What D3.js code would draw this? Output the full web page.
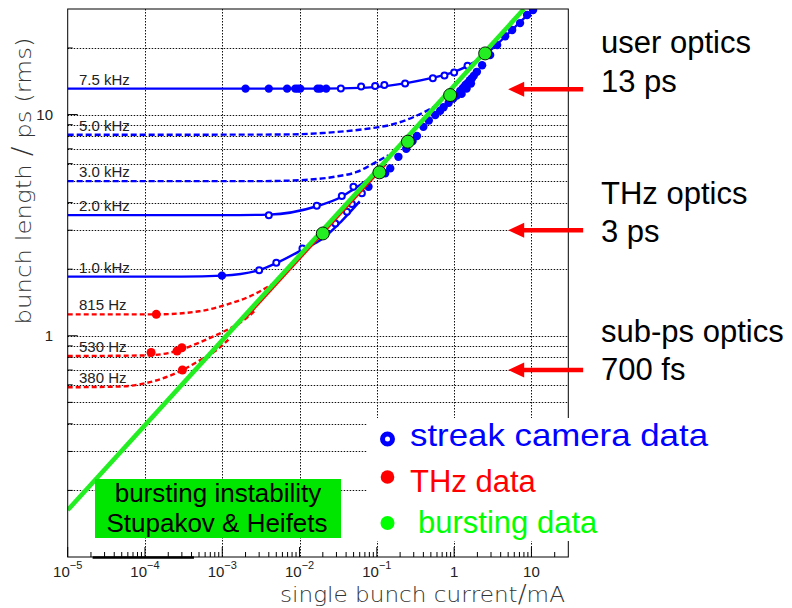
<!DOCTYPE html>
<html>
<head>
<meta charset="utf-8">
<script src="https://cdn.jsdelivr.net/npm/d3@7"></script>
<style>
  body { margin: 0; background: #fff; }
  svg { display: block; }
</style>
</head>
<body>
<svg id="chart" width="792" height="608"></svg>
<script>
// ---- axis ticks ----
const currentTicks = [1e-5, 1e-4, 1e-3, 1e-2, 1e-1, 1, 10];
const currentTickLabels = [["10", "−5"], ["10", "−4"], ["10", "−3"], ["10", "−2"], ["10", "−1"], ["1", ""], ["10", ""]];
const lengthTicks = [1, 10];
const lengthTickLabels = ["1", "10"];

// ---- fitted curves per synchrotron frequency: [current mA, bunch length ps] ----
const fit7500 = [[1e-5, 13.1], [0.02, 13.1], [0.06, 13.2], [0.13, 13.45], [0.25, 13.9], [0.5, 14.6], [1.0, 15.6], [1.5, 16.6], [2.2, 18.0], [3.2, 20.0], [5, 23.2], [8, 27.2], [11, 30]];
const fit5000 = [[1e-5, 8.1], [0.005, 8.12], [0.02, 8.25], [0.041, 8.42], [0.08, 8.65], [0.149, 8.97], [0.3, 9.75], [0.49, 10.6], [0.65, 11.2]];
const fit3000 = [[1e-5, 5.0], [0.003, 5.0], [0.01, 5.05], [0.03, 5.25], [0.055, 5.5], [0.09, 6.0], [0.14, 6.55]];
const fit2000 = [[1e-5, 3.51], [0.001, 3.51], [0.004, 3.53], [0.0167, 3.85], [0.035, 4.25], [0.05, 4.6], [0.078, 5.1], [0.1, 5.45]];
const fit1000 = [[1e-5, 1.85], [3e-4, 1.85], [1e-3, 1.87], [3e-3, 1.98], [5e-3, 2.13], [0.0109, 2.45], [0.02, 2.75], [0.035, 3.3], [0.06, 4.05]];
const fit815 = [[1e-5, 1.25], [1.4e-4, 1.25], [5e-4, 1.29], [1.27e-3, 1.40], [2.2e-3, 1.5], [3.2e-3, 1.6], [4.3e-3, 1.7], [5.8e-3, 1.82]];
const fit530 = [[1e-5, 0.81], [1e-4, 0.815], [2e-4, 0.835], [3e-4, 0.87], [5e-4, 0.93], [8e-4, 1.0], [1.2e-3, 1.07], [1.8e-3, 1.16], [2.6e-3, 1.29]];
const fit380 = [[1e-5, 0.585], [5e-5, 0.59], [1e-4, 0.61], [2e-4, 0.655], [3.05e-4, 0.70], [5e-4, 0.77], [8e-4, 0.85], [1.2e-3, 0.96]];

// ---- threshold lines ----
const burstingLine = [[1e-5, 0.163], [8.0, 30]];
const thzThresholdLine = [[2e-3, 1.2], [0.13, 5.95]];

// ---- measurements ----
const streakFilled = [
  [0.002, 13.1], [0.004, 13.1], [0.0069, 13.1], [0.0088, 13.1], [0.0095, 13.1], [0.0102, 13.1], [0.0171, 13.1], [0.0185, 13.1], [0.0221, 13.1],
  [0.00099, 1.87],
  [0.078, 4.72], [0.128, 5.42], [0.149, 5.71], [0.19, 6.44], [0.24, 7.0], [0.29, 7.6], [0.33, 8.0], [0.40, 8.8], [0.47, 9.4], [0.57, 9.95],
  [0.66, 10.4], [0.73, 10.8], [0.85, 11.3], [0.97, 11.8], [1.08, 12.2], [1.2, 12.8], [1.3, 13.2], [1.4, 13.6], [1.5, 13.9], [1.6, 14.3],
  [1.7, 14.6], [1.8, 15.0], [1.97, 15.6], [1.25, 12.4], [1.45, 13.1], [1.65, 13.8], [2.3, 16.7], [2.92, 18.6], [3.6, 20.6], [4.57, 22.6],
  [5.63, 24.1], [7.13, 25.9], [8.79, 28.2], [10.5, 29.7]
];
const streakOpen = [
  [0.0342, 13.1], [0.0626, 13.4], [0.095, 13.45], [0.125, 13.6], [0.232, 13.8], [0.53, 14.6], [0.75, 15.0], [1.0, 15.5], [1.49, 16.6],
  [0.003, 1.98], [0.005, 2.14], [0.0109, 2.48],
  [0.004, 3.51], [0.0167, 3.87], [0.0352, 4.28], [0.0498, 4.72],
  [0.029, 3.22], [0.041, 3.64], [0.0475, 3.94], [0.064, 4.41]
];
const thzData = [[1.4e-4, 1.25], [1.2e-4, 0.84], [2.6e-4, 0.853], [3.0e-4, 0.883], [3.05e-4, 0.70]];
const burstingData = [[0.020, 2.90], [0.108, 5.48], [0.252, 7.54], [0.887, 12.25], [2.52, 18.9]];

// ---- optics annotations ----
const opticsNames = ["user optics", "THz optics", "sub-ps optics"];
const opticsLengths = ["13 ps", "3 ps", "700 fs"];
const opticsValues = [13, 3, 0.7];

const BLUE = "#0000ff", RED = "#ff0000", GREEN = "#22ee22";

const curves = [
  { label: "7.5 kHz", pts: fit7500, color: BLUE, dash: null },
  { label: "5.0 kHz", pts: fit5000, color: BLUE, dash: "6,3" },
  { label: "3.0 kHz", pts: fit3000, color: BLUE, dash: "6,3" },
  { label: "2.0 kHz", pts: fit2000, color: BLUE, dash: null },
  { label: "1.0 kHz", pts: fit1000, color: BLUE, dash: null },
  { label: "815 Hz", pts: fit815, color: RED, dash: "5,3" },
  { label: "530 Hz", pts: fit530, color: RED, dash: "5,3" },
  { label: "380 Hz", pts: fit380, color: RED, dash: "5,3" }
];

const svg = d3.select("#chart");
const L = 67.7, R = 568.3, T = 9, B = 557;
const x = d3.scaleLog().domain([1e-5, 30]).range([L, R]);
const y = d3.scaleLog().domain([0.1, 30]).range([B, T]);

svg.append("defs").append("clipPath").attr("id", "plot")
  .append("rect").attr("x", L).attr("y", T).attr("width", R - L).attr("height", B - T);

// grid
const yGrid = [0.2, 0.3, 0.4, 0.5, 0.6, 0.7, 0.8, 0.9, 1, 2, 3, 4, 5, 6, 7, 8, 9, 10, 20];
const xGrid = currentTicks.slice(1);
const grid = svg.append("g").attr("stroke", "#111").attr("stroke-width", 1).attr("stroke-dasharray", "1.5,1.5");
grid.selectAll("line.h").data(yGrid).join("line").attr("class", "h")
  .attr("x1", L).attr("x2", R).attr("y1", d => Math.round(y(d)) + 0.5).attr("y2", d => Math.round(y(d)) + 0.5);
grid.selectAll("line.v").data(xGrid).join("line").attr("class", "v")
  .attr("y1", T).attr("y2", B).attr("x1", d => Math.round(x(d)) + 0.5).attr("x2", d => Math.round(x(d)) + 0.5);

// ticks
const minorX = [];
currentTicks.forEach(d => { for (let k = 2; k <= 9; k++) { if (k * d < 30) minorX.push(k * d); } });
const ticks = svg.append("g").attr("stroke", "#000").attr("stroke-width", 1);
ticks.selectAll("line.mx").data(minorX).join("line")
  .attr("x1", d => x(d)).attr("x2", d => x(d)).attr("y1", B).attr("y2", B - 5);
ticks.selectAll("line.Mx").data(currentTicks).join("line")
  .attr("x1", d => x(d)).attr("x2", d => x(d)).attr("y1", B).attr("y2", B - 10);
ticks.selectAll("line.my").data(yGrid.filter(d => d !== 1 && d !== 10)).join("line")
  .attr("x1", L).attr("x2", L + 5).attr("y1", d => y(d)).attr("y2", d => y(d));
ticks.selectAll("line.My").data(lengthTicks).join("line")
  .attr("x1", L).attr("x2", L + 10).attr("y1", d => y(d)).attr("y2", d => y(d));

// curves
const line = d3.line().x(d => x(d[0])).y(d => y(d[1])).curve(d3.curveMonotoneX);
const plot = svg.append("g").attr("clip-path", "url(#plot)");
plot.selectAll("path.fit").data(curves).join("path")
  .attr("fill", "none").attr("stroke", d => d.color).attr("stroke-width", 2.4)
  .attr("stroke-dasharray", d => d.dash)
  .attr("d", d => line(d.pts));

// frequency labels
svg.append("g").selectAll("text").data(curves).join("text")
  .attr("x", 79).attr("y", d => y(d.pts[0][1]) - 4)
  .attr("font-family", "Liberation Sans, Arial, sans-serif").attr("font-size", 15).attr("fill", "#222")
  .text(d => d.label);

// streak camera measurements
plot.selectAll("circle.sf").data(streakFilled).join("circle")
  .attr("cx", d => x(d[0])).attr("cy", d => y(d[1])).attr("r", 4.2).attr("fill", BLUE);
plot.selectAll("circle.so").data(streakOpen).join("circle")
  .attr("cx", d => x(d[0])).attr("cy", d => y(d[1])).attr("r", 3)
  .attr("fill", "#fff").attr("stroke", BLUE).attr("stroke-width", 2);

// thresholds
const straight = d3.line().x(d => x(d[0])).y(d => y(d[1]));
plot.append("path").attr("d", straight(thzThresholdLine)).attr("stroke", RED).attr("stroke-width", 2.2).attr("fill", "none");
plot.append("path").attr("d", straight(burstingLine)).attr("stroke", GREEN).attr("stroke-width", 4.6).attr("fill", "none");

plot.selectAll("circle.thz").data(thzData).join("circle")
  .attr("cx", d => x(d[0])).attr("cy", d => y(d[1])).attr("r", 4.5).attr("fill", RED);
plot.selectAll("circle.bd").data(burstingData).join("circle")
  .attr("cx", d => x(d[0])).attr("cy", d => y(d[1])).attr("r", 6.5)
  .attr("fill", GREEN).attr("stroke", "#000").attr("stroke-width", 0.9);

// frame
svg.append("rect").attr("x", L).attr("y", T).attr("width", R - L).attr("height", B - T)
  .attr("fill", "none").attr("stroke", "#000").attr("stroke-width", 1);
svg.append("line").attr("x1", x(2.1e-5)).attr("x2", x(4.3e-4)).attr("y1", B + 0.5).attr("y2", B + 0.5)
  .attr("stroke", "#000").attr("stroke-width", 2.5);

// tick labels
const font = "Liberation Sans, Arial, sans-serif";
const xl = svg.append("g").attr("font-family", font).attr("fill", "#222");
currentTicks.forEach((d, i) => {
  const t = xl.append("text").attr("x", x(d)).attr("y", 577).attr("text-anchor", "middle").attr("font-size", 15);
  t.append("tspan").text(currentTickLabels[i][0]);
  if (currentTickLabels[i][1]) t.append("tspan").attr("font-size", 11).attr("dy", -8).text(currentTickLabels[i][1]);
});
svg.append("g").selectAll("text").data(lengthTicks).join("text")
  .attr("x", 53).attr("y", d => y(d) + 5).attr("text-anchor", "end")
  .attr("font-family", font).attr("font-size", 15).attr("fill", "#222")
  .text((d, i) => lengthTickLabels[i]);

// axis titles
const xt = svg.append("text").attr("x", 565).attr("y", 602).attr("text-anchor", "end")
  .attr("font-family", "DejaVu Sans, sans-serif").attr("font-weight", 200).attr("font-size", 21).attr("fill", "#333")
  .attr("textLength", 285).attr("lengthAdjust", "spacingAndGlyphs");
xt.append("tspan").text("single bunch current");
xt.append("tspan").attr("font-size", 24).text("/");
xt.append("tspan").text("mA");

const yt = svg.append("text").attr("transform", "translate(31,181) rotate(-90)").attr("text-anchor", "middle")
  .attr("font-family", "DejaVu Sans, sans-serif").attr("font-weight", 200).attr("font-size", 22).attr("fill", "#333")
  .attr("textLength", 287).attr("lengthAdjust", "spacingAndGlyphs");
yt.append("tspan").text("bunch length ");
yt.append("tspan").attr("font-size", 26).text("/");
yt.append("tspan").text(" ps (rms)");

// green label box
svg.append("rect").attr("x", 95).attr("y", 479).attr("width", 246).attr("height", 59).attr("fill", "#00e600");
svg.append("text").attr("x", 218).attr("y", 502).attr("text-anchor", "middle")
  .attr("font-family", font).attr("font-size", 26).attr("fill", "#000").text("bursting instability");
svg.append("text").attr("x", 217).attr("y", 532).attr("text-anchor", "middle")
  .attr("font-family", font).attr("font-size", 26).attr("fill", "#000").text("Stupakov & Heifets");

// legend
svg.append("rect").attr("x", 367).attr("y", 418).attr("width", 380).attr("height", 123).attr("fill", "#fff");
const legend = [
  { text: "streak camera data", color: BLUE, ty: 446, cy: 439, tx: 410, len: 298, size: 32 },
  { text: "THz data", color: RED, ty: 492, cy: 477, tx: 410, len: null, size: 31 },
  { text: "bursting data", color: "#00ff00", ty: 533, cy: 523, tx: 418, len: null, size: 31 }
];
const lg = svg.append("g").attr("font-family", font);
lg.selectAll("text").data(legend).join("text")
  .attr("x", d => d.tx).attr("y", d => d.ty).attr("fill", d => d.color)
  .attr("font-size", d => d.size)
  .attr("textLength", d => d.len).attr("lengthAdjust", "spacingAndGlyphs")
  .text(d => d.text);
lg.append("circle").attr("cx", 387.5).attr("cy", legend[0].cy).attr("r", 5).attr("fill", "#fff").attr("stroke", BLUE).attr("stroke-width", 5);
lg.append("circle").attr("cx", 387.5).attr("cy", legend[1].cy).attr("r", 6.8).attr("fill", RED);
lg.append("circle").attr("cx", 387.5).attr("cy", legend[2].cy).attr("r", 7).attr("fill", "#00ff00");

// optics arrows and labels
const tipX = x(5);
const arrows = svg.append("g");
opticsValues.forEach((v, i) => {
  const yy = y(v);
  arrows.append("line").attr("x1", tipX + 12).attr("x2", tipX + 75).attr("y1", yy).attr("y2", yy)
    .attr("stroke", RED).attr("stroke-width", 4.5);
  arrows.append("path").attr("fill", RED)
    .attr("d", `M${tipX},${yy} L${tipX + 16},${yy - 7.5} L${tipX + 16},${yy + 7.5} Z`);
});
const ot = svg.append("g").attr("font-family", font).attr("font-size", 31).attr("fill", "#000");
const nameY = [53, 204, 342], lenY = [92, 242, 380];
opticsNames.forEach((n, i) => {
  ot.append("text").attr("x", 601).attr("y", nameY[i]).text(n);
  ot.append("text").attr("x", 601).attr("y", lenY[i]).text(opticsLengths[i]);
});
</script>
</body>
</html>
